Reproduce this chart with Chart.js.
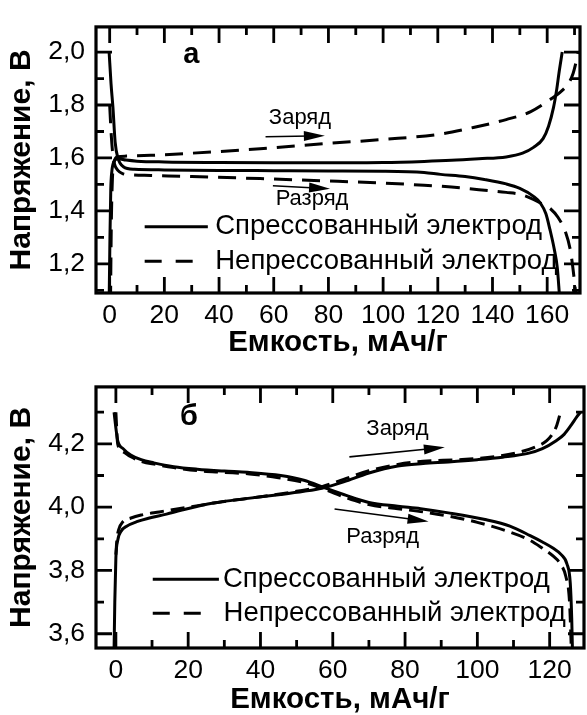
<!DOCTYPE html>
<html lang="ru">
<head>
<meta charset="utf-8">
<title>Зарядно-разрядные кривые</title>
<script src="https://cdn.jsdelivr.net/npm/chart.js@4.4.1/dist/chart.umd.min.js"></script>
<style>
  body { margin: 0; background: #fff; }
  canvas { display: block; }
</style>
</head>
<body>
<canvas id="chart-a" width="587" height="360"></canvas>
<canvas id="chart-b" width="587" height="355"></canvas>
<script>
// подписи делений
const aXTicks = [0, 20, 40, 60, 80, 100, 120, 140, 160];
const aYTicks = [1.2, 1.4, 1.6, 1.8, 2.0];
const bXTicks = [0, 20, 40, 60, 80, 100, 120];
const bYTicks = [3.6, 3.8, 4.0, 4.2];

// панель а: спрессованный электрод
const aPressedChargeX = [-0.2, 0.1, 0.4, 0.8, 1.5, 3, 6, 10, 20, 40, 60, 80, 100, 115, 125, 135, 145, 151, 155, 158.5, 160.5, 162.3, 163.5, 164.3, 165.5];
const aPressedChargeV = [1.05, 1.30, 1.48, 1.55, 1.585, 1.597, 1.592, 1.588, 1.585, 1.583, 1.582, 1.582, 1.583, 1.587, 1.591, 1.597, 1.604, 1.618, 1.64, 1.673, 1.72, 1.79, 1.86, 1.92, 2.0];
const aPressedDischargeX = [-0.2, 0.5, 1.2, 2, 3, 5, 9, 20, 40, 60, 80, 100, 115, 121, 130, 137, 145, 150, 155, 157.5, 159.5, 161, 162.5, 163.7, 164.5];
const aPressedDischargeV = [2.0, 1.88, 1.79, 1.66, 1.60, 1.567, 1.557, 1.555, 1.553, 1.552, 1.551, 1.55, 1.545, 1.538, 1.53, 1.519, 1.502, 1.485, 1.455, 1.43, 1.39, 1.33, 1.26, 1.185, 1.08];
// панель а: непрессованный электрод
const aLooseChargeX = [0.3, 0.6, 1, 1.6, 3, 6, 15, 30, 55, 80, 100, 121, 133, 145, 154, 161, 165.5, 168, 169.5, 170.5, 171.3];
const aLooseChargeV = [1.05, 1.35, 1.52, 1.585, 1.605, 1.607, 1.61, 1.618, 1.635, 1.655, 1.67, 1.69, 1.715, 1.745, 1.775, 1.82, 1.855, 1.885, 1.92, 1.96, 2.0];
const aLooseDischargeX = [0, 0.5, 1, 1.7, 3, 5, 8, 15, 30, 55, 80, 100, 115, 125, 135, 145, 151, 157.5, 161, 164, 166.7, 168.5, 169.8, 170.5];
const aLooseDischargeV = [1.80, 1.70, 1.63, 1.58, 1.553, 1.54, 1.536, 1.534, 1.53, 1.522, 1.513, 1.505, 1.497, 1.49, 1.48, 1.47, 1.46, 1.43, 1.41, 1.375, 1.32, 1.25, 1.15, 1.08];

// панель б: спрессованный электрод
const bPressedChargeX = [-0.5, -0.3, 0, 0.5, 1.5, 3, 6, 9, 14, 18, 27, 36, 45.6, 52, 57, 63, 70, 78, 85, 92, 100, 107, 114, 118, 121.8, 124, 126, 127.5, 128.5];
const bPressedChargeV = [3.55, 3.70, 3.84, 3.895, 3.925, 3.94, 3.955, 3.965, 3.978, 3.99, 4.013, 4.027, 4.04, 4.05, 4.06, 4.08, 4.108, 4.13, 4.138, 4.143, 4.15, 4.158, 4.17, 4.185, 4.21, 4.23, 4.26, 4.285, 4.30];
const bPressedDischargeX = [-0.5, -0.3, 0, 0.5, 2, 4.1, 7, 10.5, 16, 22.5, 30, 36.4, 45.6, 52, 58, 63, 70, 78, 84.3, 92, 102.5, 109, 114.6, 118, 121, 123.2, 124.8, 125.7, 126.1, 126.3];
const bPressedDischargeV = [4.30, 4.28, 4.25, 4.21, 4.185, 4.165, 4.15, 4.14, 4.128, 4.12, 4.114, 4.11, 4.10, 4.085, 4.06, 4.04, 4.015, 4.003, 3.995, 3.982, 3.96, 3.94, 3.91, 3.89, 3.87, 3.85, 3.82, 3.76, 3.65, 3.55];
// панель б: непрессованный электрод
const bLooseChargeX = [0, 0.3, 0.8, 2, 4, 7, 12, 20, 30, 40, 50, 57, 63, 70, 78, 85, 95, 105, 112, 116, 119.2, 121, 122, 123];
const bLooseChargeV = [3.85, 3.90, 3.93, 3.955, 3.965, 3.975, 3.985, 4.0, 4.018, 4.033, 4.05, 4.065, 4.088, 4.115, 4.135, 4.145, 4.15, 4.16, 4.175, 4.19, 4.21, 4.235, 4.26, 4.30];
const bLooseDischargeX = [0, 0.5, 2, 4, 7, 11, 16, 23, 30, 37, 45, 52, 58, 63, 70, 78, 85, 92, 100, 108, 114.6, 118, 121, 123, 124.5, 125.5, 126];
const bLooseDischargeV = [4.30, 4.20, 4.175, 4.16, 4.145, 4.135, 4.125, 4.115, 4.11, 4.105, 4.093, 4.078, 4.055, 4.033, 4.008, 3.995, 3.985, 3.972, 3.952, 3.925, 3.895, 3.87, 3.845, 3.82, 3.78, 3.70, 3.55];

const pressedLabel = 'Спрессованный электрод';
const looseLabel = 'Непрессованный электрод';

const FONT = "'Liberation Sans', Arial, sans-serif";
Chart.defaults.font.family = FONT;
Chart.defaults.color = '#000';

const zip = (xs, ys) => xs.map((x, i) => ({ x: x, y: ys[i] }));
const comma = v => v.toFixed(1).replace('.', ',');

function drawArrow(ctx, x0, y0, x1, y1) {
  const ang = Math.atan2(y1 - y0, x1 - x0);
  const c = Math.cos(ang), s = Math.sin(ang);
  const head = 21, half = 5;
  ctx.lineWidth = 1.6;
  ctx.beginPath();
  ctx.moveTo(x0, y0);
  ctx.lineTo(x1 - head * 0.7 * c, y1 - head * 0.7 * s);
  ctx.stroke();
  ctx.beginPath();
  ctx.moveTo(x1, y1);
  ctx.lineTo(x1 - head * c + half * s, y1 - head * s - half * c);
  ctx.lineTo(x1 - head * c - half * s, y1 - head * s + half * c);
  ctx.closePath();
  ctx.fill();
}

// рамка, внутренние деления, легенда и подписи
const decor = {
  id: 'decor',
  afterDraw(chart, args, o) {
    const { ctx, chartArea: a, scales: { x, y } } = chart;
    ctx.save();
    ctx.strokeStyle = '#000';
    ctx.fillStyle = '#000';
    ctx.setLineDash([]);

    ctx.lineWidth = 2.8;
    const major = 16, minor = 8;
    const steps = (min, max, step, cb) => {
      for (let i = Math.ceil(min / step - 1e-9); i * step <= max + 1e-9; i++) cb(i * step, i % 2 === 0);
    };
    steps(x.min, x.max, o.xStep, (v, big) => {
      const px = x.getPixelForValue(v);
      if (px < a.left + 2 || px > a.right - 2) return;
      const len = big ? major : minor;
      ctx.beginPath();
      ctx.moveTo(px, a.bottom); ctx.lineTo(px, a.bottom - len);
      ctx.moveTo(px, a.top); ctx.lineTo(px, a.top + len);
      ctx.stroke();
    });
    steps(y.min, y.max, o.yStep, (v, big) => {
      const py = y.getPixelForValue(v);
      if (py < a.top + 2 || py > a.bottom - 2) return;
      const len = big ? major : minor;
      ctx.beginPath();
      ctx.moveTo(a.left, py); ctx.lineTo(a.left + len, py);
      ctx.moveTo(a.right, py); ctx.lineTo(a.right - len, py);
      ctx.stroke();
    });

    ctx.lineWidth = 3.2;
    ctx.strokeRect(a.left, a.top, a.right - a.left, a.bottom - a.top);

    // легенда
    ctx.font = '27.5px ' + FONT;
    ctx.textAlign = 'left';
    ctx.textBaseline = 'middle';
    o.legend.forEach(item => {
      const ds = chart.data.datasets[item.dataset];
      const py = y.getPixelForValue(item.y);
      ctx.lineWidth = 3;
      ctx.setLineDash(item.dash || []);
      ctx.beginPath();
      ctx.moveTo(x.getPixelForValue(item.x0), py);
      ctx.lineTo(x.getPixelForValue(item.x1), py);
      ctx.stroke();
      ctx.setLineDash([]);
      ctx.fillText(ds.label, x.getPixelForValue(item.textX), py);
    });

    // буква панели
    ctx.textAlign = 'center';
    ctx.font = 'bold 29px ' + FONT;
    ctx.fillText(o.panel.text, x.getPixelForValue(o.panel.x), y.getPixelForValue(o.panel.y));

    // стрелки заряд / разряд
    ctx.font = '22px ' + FONT;
    o.notes.forEach(n => {
      ctx.fillText(n.text, x.getPixelForValue(n.x), y.getPixelForValue(n.y));
      drawArrow(ctx,
        x.getPixelForValue(n.from[0]), y.getPixelForValue(n.from[1]),
        x.getPixelForValue(n.to[0]), y.getPixelForValue(n.to[1]));
    });
    ctx.restore();
  }
};

function line(label, xs, ys, dash) {
  return {
    label: label,
    data: zip(xs, ys),
    borderColor: '#000',
    borderWidth: 3,
    borderDash: dash,
    pointRadius: 0,
    fill: false,
    cubicInterpolationMode: 'monotone'
  };
}

function panel(id, p) {
  return new Chart(document.getElementById(id), {
    type: 'line',
    data: { datasets: p.datasets },
    plugins: [decor],
    options: {
      responsive: false,
      animation: false,
      layout: { padding: { top: p.padTop, right: p.padRight, left: 0, bottom: 0 } },
      plugins: {
        legend: { display: false },
        tooltip: { enabled: false },
        decor: p.decor
      },
      scales: {
        x: {
          type: 'linear',
          min: p.xMin, max: p.xMax,
          afterBuildTicks: s => { s.ticks = p.xTicks.map(v => ({ value: v })); },
          afterFit: s => { s.height = p.xHeight; },
          grid: { display: false, drawTicks: false },
          border: { display: false },
          ticks: { font: { size: 26.5 }, padding: 7, maxRotation: 0, autoSkip: false, callback: v => String(v) },
          title: { display: true, text: 'Емкость, мАч/г', font: { size: 29.5, weight: 'bold', lineHeight: 1 }, padding: { top: 0, bottom: p.xTitlePad } }
        },
        y: {
          type: 'linear',
          min: p.yMin, max: p.yMax,
          afterBuildTicks: s => { s.ticks = p.yTicks.map(v => ({ value: v })); },
          afterFit: s => { s.width = 96; },
          grid: { display: false, drawTicks: false },
          border: { display: false },
          ticks: { font: { size: 26.5 }, padding: 11, autoSkip: false, callback: v => comma(v) },
          title: { display: true, text: 'Напряжение, В', font: { size: 30, weight: 'bold', lineHeight: 1 }, padding: { top: 7, bottom: 0 } }
        }
      }
    }
  });
}

panel('chart-a', {
  xMin: -5, xMax: 172, yMin: 1.09, yMax: 2.095,
  xTicks: aXTicks, yTicks: aYTicks,
  padTop: 17, padRight: 7, xHeight: 67, xTitlePad: 2,
  datasets: [
    line(pressedLabel, aPressedChargeX, aPressedChargeV, []),
    line(pressedLabel, aPressedDischargeX, aPressedDischargeV, []),
    line(looseLabel, aLooseChargeX, aLooseChargeV, [18, 10]),
    line(looseLabel, aLooseDischargeX, aLooseDischargeV, [18, 10])
  ],
  decor: {
    xStep: 10, yStep: 0.1,
    legend: [
      { dataset: 0, x0: 12.8, x1: 35.9, y: 1.34, textX: 38.6 },
      { dataset: 2, x0: 12.8, x1: 30.5, y: 1.21, textX: 38.6, dash: [17, 14] }
    ],
    panel: { text: 'а', x: 29.9, y: 1.99 },
    notes: [
      { text: 'Заряд', x: 69.6, y: 1.752, from: [57, 1.68], to: [78.7, 1.684] },
      { text: 'Разряд', x: 74, y: 1.447, from: [59.7, 1.495], to: [80.6, 1.484] }
    ]
  }
});

panel('chart-b', {
  xMin: -5.5, xMax: 129.5, yMin: 3.555, yMax: 4.38,
  xTicks: bXTicks, yTicks: bYTicks,
  padTop: 13, padRight: 3, xHeight: 67, xTitlePad: 0,
  datasets: [
    line(pressedLabel, bPressedChargeX, bPressedChargeV, []),
    line(pressedLabel, bPressedDischargeX, bPressedDischargeV, []),
    line(looseLabel, bLooseChargeX, bLooseChargeV, [14, 7]),
    line(looseLabel, bLooseDischargeX, bLooseDischargeV, [14, 7])
  ],
  decor: {
    xStep: 10, yStep: 0.1,
    legend: [
      { dataset: 0, x0: 10.2, x1: 28.5, y: 3.772, textX: 29.6 },
      { dataset: 2, x0: 10.2, x1: 25, y: 3.665, textX: 29.8, dash: [17, 14] }
    ],
    panel: { text: 'б', x: 20.2, y: 4.285 },
    notes: [
      { text: 'Заряд', x: 77.9, y: 4.248, from: [64.6, 4.159], to: [91, 4.189] },
      { text: 'Разряд', x: 73.8, y: 3.907, from: [60.5, 3.994], to: [86.5, 3.955] }
    ]
  }
});
</script>
</body>
</html>
